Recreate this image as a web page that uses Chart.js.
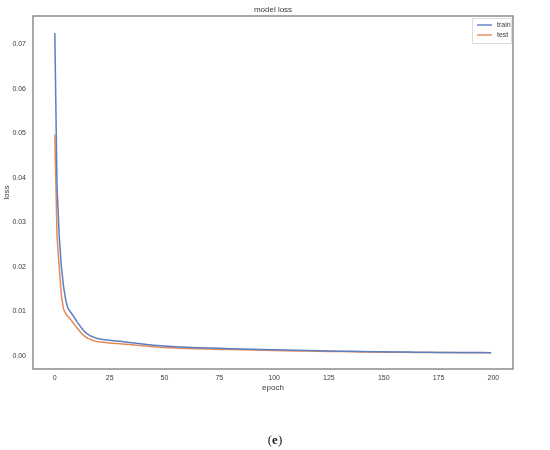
<!DOCTYPE html>
<html>
<head>
<meta charset="utf-8">
<script src="https://cdn.jsdelivr.net/npm/chart.js@4.4.0/dist/chart.umd.min.js"></script>
<style>
  html, body { margin: 0; padding: 0; background: #fff; }
  #wrap { position: relative; width: 550px; height: 450px; }
  #c { position: absolute; left: 0; top: 0; }
  #cap { position: absolute; left: 0; width: 550px; top: 432px; text-align: center;
         font-family: "Liberation Serif", "DejaVu Serif", serif; font-size: 13px; color: #222; }
  #cap b { font-weight: bold; }
</style>
</head>
<body>
<div id="wrap">
  <canvas id="c" width="550" height="450"></canvas>
  <div id="cap">(<b>e</b>)</div>
</div>
<script>
// ---- data ----
const epochs = [0,1,2,3,4,5,6,7,8,9,10,11,12,13,14,15,16,17,18,19,20,22,24,26,28,30,32,34,36,38,40,45,50,55,60,65,70,75,80,85,90,95,100,105,110,115,120,125,130,135,140,145,150,155,160,165,170,175,180,185,190,195,199];
const trainLoss = [0.0725,0.038,0.027,0.020,0.0155,0.0125,0.0107,0.0100,0.0093,0.0086,0.0078,0.0071,0.0064,0.0058,0.0053,0.0049,0.0046,0.0044,0.0042,0.0040,0.0039,0.00372,0.0036,0.0035,0.0034,0.0033,0.00318,0.00306,0.00294,0.00282,0.0027,0.00245,0.00225,0.0021,0.00198,0.00188,0.0018,0.00173,0.00166,0.0016,0.00154,0.00148,0.00142,0.00136,0.0013,0.00125,0.0012,0.00115,0.0011,0.00106,0.00102,0.00098,0.00095,0.00092,0.00089,0.00087,0.00085,0.00083,0.00081,0.0008,0.00079,0.00078,0.00077];
const testLoss  = [0.0497,0.027,0.020,0.0135,0.0105,0.0095,0.0089,0.0083,0.0077,0.0070,0.0064,0.0058,0.0052,0.0047,0.0043,0.0040,0.0038,0.0036,0.0034,0.0033,0.0032,0.0031,0.0030,0.0029,0.00282,0.00274,0.00266,0.00258,0.0025,0.0024,0.0023,0.0021,0.00193,0.0018,0.0017,0.00162,0.00156,0.0015,0.00145,0.0014,0.00135,0.0013,0.00125,0.0012,0.00116,0.00112,0.00108,0.00104,0.001,0.00097,0.00094,0.00091,0.00088,0.00086,0.00084,0.00082,0.0008,0.00079,0.00078,0.00077,0.00076,0.00075,0.00074];
const xTicks = [0,25,50,75,100,125,150,175,200];
const yTicks = [0.00,0.01,0.02,0.03,0.04,0.05,0.06,0.07];
const seriesNames = ["train","test"];
const titleText = "model loss";
const xLabel = "epoch";
const yLabel = "loss";

const colors = ["#5b7fc2", "#e48a59"];
const textColor = "#3a3a3a";
const fontFam = '"Liberation Sans", Arial, sans-serif';

const toPts = (vals) => epochs.map((e, i) => ({ x: e, y: vals[i] }));

const framePlugin = {
  id: 'framePlugin',
  afterDraw(chart) {
    const ctx = chart.ctx, a = chart.chartArea;
    ctx.save();
    ctx.strokeStyle = "#7a7a7a";
    ctx.lineWidth = 1.3;
    ctx.strokeRect(a.left, a.top, a.right - a.left, a.bottom - a.top);
    ctx.fillStyle = textColor;
    ctx.font = "8px " + fontFam;
    ctx.textAlign = "center";
    ctx.textBaseline = "middle";
    ctx.fillText(titleText, (a.left + a.right) / 2, 9.5);
    ctx.fillText(xLabel, (a.left + a.right) / 2, 388);
    ctx.save();
    ctx.translate(6.5, (a.top + a.bottom) / 2);
    ctx.rotate(-Math.PI / 2);
    ctx.fillText(yLabel, 0, 0);
    ctx.restore();
    const lx = 472, ly = 18, lw = 39, lh = 25;
    ctx.fillStyle = "#ffffff";
    ctx.strokeStyle = "#dddddd";
    ctx.lineWidth = 1;
    ctx.beginPath();
    ctx.rect(lx + 0.5, ly + 0.5, lw, lh);
    ctx.fill(); ctx.stroke();
    ctx.font = "7px " + fontFam;
    ctx.textAlign = "left";
    seriesNames.forEach((n, i) => {
      const yy = ly + 7 + i * 10;
      ctx.strokeStyle = colors[i];
      ctx.lineWidth = 1.4;
      ctx.beginPath();
      ctx.moveTo(lx + 5, yy); ctx.lineTo(lx + 20, yy);
      ctx.stroke();
      ctx.fillStyle = textColor;
      ctx.fillText(n, lx + 25, yy);
    });
    ctx.restore();
  }
};

new Chart(document.getElementById('c'), {
  type: 'line',
  data: {
    datasets: [
      { label: seriesNames[0], data: toPts(trainLoss), borderColor: colors[0], borderWidth: 1.5, pointRadius: 0, tension: 0, fill: false },
      { label: seriesNames[1], data: toPts(testLoss), borderColor: colors[1], borderWidth: 1.5, pointRadius: 0, tension: 0, fill: false }
    ]
  },
  options: {
    responsive: false,
    animation: false,
    events: [],
    layout: { padding: { top: 16, right: 37, left: 0, bottom: 0 } },
    plugins: { legend: { display: false }, title: { display: false }, tooltip: { enabled: false } },
    scales: {
      x: {
        type: 'linear',
        min: -9.95, max: 208.95,
        afterBuildTicks(s) { s.ticks = xTicks.map(v => ({ value: v })); },
        afterFit(s) { s.height = 450 - 369; },
        grid: { display: false, drawTicks: false },
        border: { display: false },
        ticks: { color: textColor, font: { size: 7, family: fontFam }, padding: 5, maxRotation: 0, autoSkip: false,
                 callback: (v) => String(v) }
      },
      y: {
        type: 'linear',
        min: -0.0029, max: 0.0763,
        afterBuildTicks(s) { s.ticks = yTicks.map(v => ({ value: v })); },
        afterFit(s) { s.width = 33; },
        grid: { display: false, drawTicks: false },
        border: { display: false },
        ticks: { color: textColor, font: { size: 7, family: fontFam }, padding: 7, autoSkip: false,
                 callback: (v) => Number(v).toFixed(2) }
      }
    }
  },
  plugins: [framePlugin]
});
</script>
</body>
</html>
